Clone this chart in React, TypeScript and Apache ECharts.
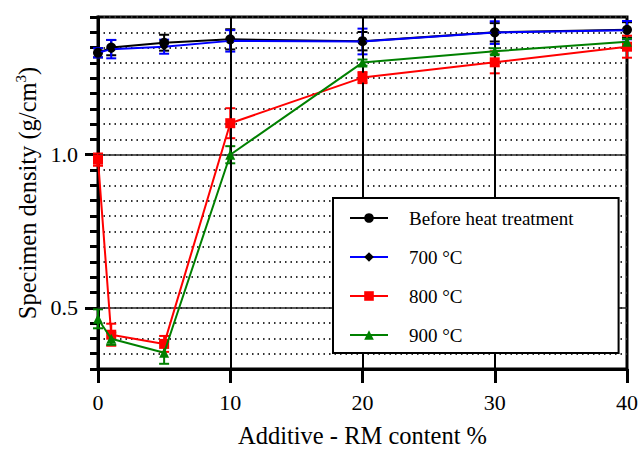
import React, { useEffect, useRef } from "react";
import * as echarts from "echarts";

const xs = [0, 1, 5, 10, 20, 30, 40];
const before = [1.333, 1.35, 1.366, 1.377, 1.371, 1.4, 1.408];
const beforeErr = [0.015, 0.025, 0.026, 0.033, 0.03, 0.03, 0.025];
const h700 = [1.333, 1.345, 1.353, 1.372, 1.37, 1.399, 1.407];
const h700Err = [0.015, 0.03, 0.023, 0.035, 0.042, 0.037, 0.03];
const h800 = [0.984, 0.412, 0.382, 1.103, 1.252, 1.302, 1.353];
const h800Err = [0.02, 0.036, 0.026, 0.049, 0.018, 0.036, 0.036];
const h900 = [0.464, 0.399, 0.353, 1.0, 1.301, 1.338, 1.369];
const h900Err = [0.031, 0.02, 0.036, 0.028, 0.01, 0.01, 0.01];
const seriesNames = ["Before heat treatment", "700 \u00B0C", "800 \u00B0C", "900 \u00B0C"];
const yLabelValues = [0.5, 1.0];
const xGridValues = [10, 20, 30];

const FONT = "Liberation Serif";

const errRender = (color: string) => (params: any, api: any) => {
  const x = api.value(0);
  const y = api.value(1);
  const e = api.value(2);
  const top = api.coord([x, y + e]);
  const bot = api.coord([x, y - e]);
  const hw = 5;
  const style = { stroke: color, lineWidth: 2 };
  return {
    type: "group",
    children: [
      { type: "line", shape: { x1: top[0], y1: top[1], x2: bot[0], y2: bot[1] }, style },
      { type: "line", shape: { x1: top[0] - hw, y1: top[1], x2: top[0] + hw, y2: top[1] }, style },
      { type: "line", shape: { x1: bot[0] - hw, y1: bot[1], x2: bot[0] + hw, y2: bot[1] }, style },
    ],
  };
};

export default function App() {
  const ref = useRef<HTMLDivElement>(null);
  useEffect(() => {
    const chart = echarts.init(ref.current!, null, { renderer: "svg" });
    const pts = (vals: number[]) => xs.map((x, i) => [x, vals[i]]);
    const errPts = (vals: number[], errs: number[]) => xs.map((x, i) => [x, vals[i], errs[i]]);
    const colors = ["#000000", "#0000ff", "#ff0000", "#008000"];
    const symbols = ["circle", "diamond", "rect", "triangle"];
    const symbolSizes = [10, 8, 10, 10];
    const symbolColors = ["#000000", "#000000", "#ff0000", "#008000"];
    const valsArr = [before, h700, h800, h900];
    const errsArr = [beforeErr, h700Err, h800Err, h900Err];

    const errSeries = valsArr.map((v, i) => ({
      type: "custom",
      name: "err" + i,
      renderItem: errRender(colors[i]),
      data: errPts(v, errsArr[i]),
      encode: { x: 0, y: 1 },
      z: 3,
      silent: true,
    }));

    const lineSeries = valsArr.map((v, i) => ({
      type: "line",
      name: seriesNames[i],
      data: pts(v),
      symbol: symbols[i],
      symbolSize: symbolSizes[i],
      showAllSymbol: true,
      lineStyle: { color: colors[i], width: 2 },
      itemStyle: { color: symbolColors[i] },
      z: 4 + i,
      ...(i === 0
        ? {
            markLine: {
              silent: true,
              symbol: "none",
              label: { show: false },
              animation: false,
              data: [
                ...yLabelValues.map((v2) => ({ yAxis: v2, lineStyle: { color: "#222", width: 1.5, type: "solid" } })),
                ...xGridValues.map((v2) => ({ xAxis: v2, lineStyle: { color: "#000", width: 2, type: "solid" } })),
              ],
            },
          }
        : {}),
    }));

    chart.setOption({
      animation: false,
      backgroundColor: "#ffffff",
      textStyle: { fontFamily: FONT },
      grid: {
        left: 98,
        right: 11,
        top: 17,
        bottom: 82,
        show: true,
        borderColor: "#000",
        borderWidth: 3,
        outerBoundsMode: "none",
      },
      legend: {
        data: seriesNames,
        orient: "vertical",
        left: 333,
        top: 198,
        backgroundColor: "#ffffff",
        borderColor: "#000",
        borderWidth: 2,
        borderRadius: 0,
        padding: [10, 45, 8, 16],
        itemGap: 19,
        itemWidth: 38,
        itemHeight: 12,
        z: 10,
        textStyle: { fontFamily: FONT, fontSize: 19, color: "#000", lineHeight: 20, padding: [0, 0, 0, 16] },
      },
      xAxis: {
        type: "value",
        min: 0,
        max: 40,
        interval: 10,
        name: "Additive - RM content %",
        nameLocation: "middle",
        nameGap: 54,
        nameTextStyle: { fontFamily: FONT, fontSize: 24.5, color: "#000" },
        axisLine: { show: true, lineStyle: { color: "#000", width: 3 } },
        axisTick: { show: true, inside: false, length: 14, lineStyle: { color: "#000", width: 3 } },
        axisLabel: { fontFamily: FONT, fontSize: 22, color: "#000", margin: 22, hideOverlap: false },
        splitLine: { show: false },
      },
      yAxis: [
        {
          type: "value",
          min: 0.3,
          max: 1.45,
          interval: 0.05,
          name: "Specimen density (g/cm{sup|3})",
          nameLocation: "middle",
          nameGap: 55,
          nameTextStyle: {
            fontFamily: FONT,
            fontSize: 24.5,
            color: "#000",
            rich: { sup: { fontFamily: FONT, fontSize: 15, color: "#000", padding: [0, 0, 12, 0] } },
          },
          axisLine: { show: true, lineStyle: { color: "#000", width: 3 } },
          axisTick: { show: true, inside: false, length: 8, lineStyle: { color: "#000", width: 3 } },
          axisLabel: {
            fontFamily: FONT,
            fontSize: 22,
            color: "#000",
            margin: 20,
            customValues: yLabelValues,
            formatter: (v: number) => v.toFixed(1),
          },
          splitLine: { show: true, lineStyle: { color: "#333", width: 2, type: [1.5, 4] } },
        },
        {
          type: "value",
          min: 0.3,
          max: 1.45,
          position: "left",
          axisLine: { show: false },
          axisTick: { show: true, inside: false, length: 13, customValues: yLabelValues, lineStyle: { color: "#000", width: 3 } },
          axisLabel: { show: false },
          splitLine: { show: false },
        },
      ],
      series: [...errSeries, ...lineSeries],
    });
    return () => chart.dispose();
  }, []);
  return <div ref={ref} style={{ width: 638, height: 451, position: "absolute", left: 0, top: 0 }} />;
}
